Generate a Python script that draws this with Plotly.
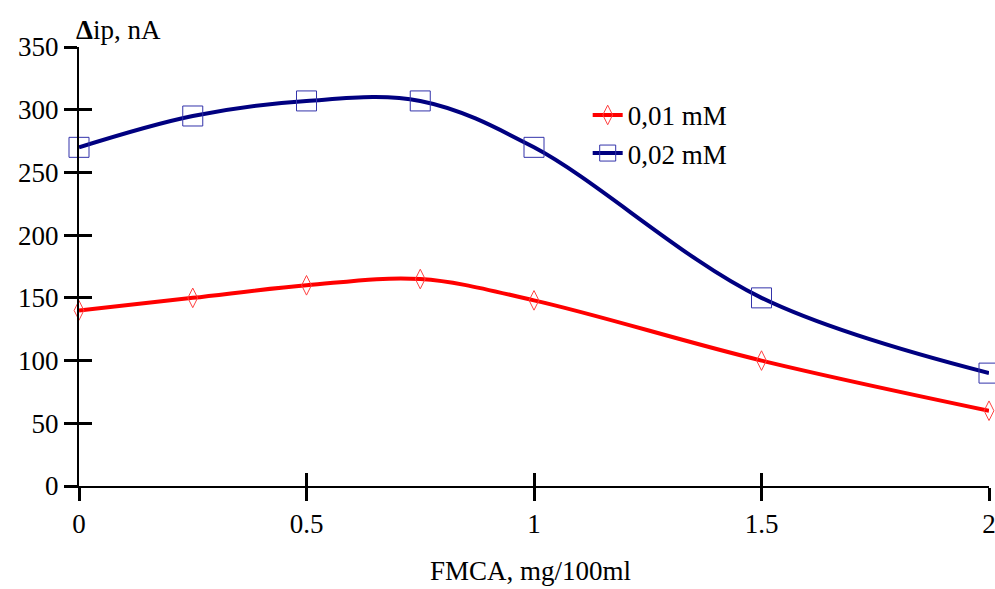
import plotly.graph_objects as go

x_vals = [0, 0.25, 0.5, 0.75, 1, 1.5, 2]
conc_001 = [140, 150, 160, 165, 148, 100, 60]
conc_002 = [270, 295, 307, 307, 270, 150, 90]
series_names = ["0,01 mM", "0,02 mM"]
x_ticks = [0, 0.5, 1, 1.5, 2]
x_tick_labels = ["0", "0.5", "1", "1.5", "2"]
y_ticks = [0, 50, 100, 150, 200, 250, 300, 350]

FONT = "Liberation Serif, Times New Roman, serif"
FS = 27

fig = go.Figure()
fig.add_trace(go.Scatter(
    x=x_vals, y=conc_001, name=series_names[0], mode="lines+markers",
    line=dict(color="#ff0000", width=4, shape="spline", smoothing=1.0),
    marker=dict(symbol="diamond-tall-open", size=14, color="#ff4040",
                line=dict(width=1, color="#ff4040")),
    cliponaxis=False,
))
fig.add_trace(go.Scatter(
    x=x_vals, y=conc_002, name=series_names[1], mode="lines+markers",
    line=dict(color="#000080", width=4, shape="spline", smoothing=1.0),
    marker=dict(symbol="square-open", size=20, color="#3333aa",
                line=dict(width=1, color="#3333aa")),
    cliponaxis=False,
))
# invisible trace on overlay axes for crossing ticks
fig.add_trace(go.Scatter(x=[0], y=[0], xaxis="x2", yaxis="y2", mode="markers",
                         marker=dict(opacity=0), showlegend=False, hoverinfo="skip"))

axis_common = dict(showgrid=False, zeroline=False, showline=True, linecolor="black",
                   linewidth=2, tickcolor="black", tickwidth=3, ticklen=13,
                   automargin=False, tickfont=dict(size=FS, family=FONT, color="black"))

fig.update_layout(
    width=995, height=589,
    margin=dict(l=79, r=6, t=47, b=103),
    plot_bgcolor="white", paper_bgcolor="white",
    font=dict(family=FONT, size=FS, color="black"),
    xaxis=dict(range=[0, 2], tickvals=x_ticks, ticktext=x_tick_labels, ticks="outside",
               ticklabelstandoff=0, ticklabeloverflow="allow", **axis_common),
    yaxis=dict(range=[0, 350], tickvals=y_ticks, ticks="outside", **axis_common),
    xaxis2=dict(range=[0, 2], tickvals=x_ticks, ticks="inside", showticklabels=False,
                overlaying="x", anchor="y2", **axis_common),
    yaxis2=dict(range=[0, 350], tickvals=y_ticks, ticks="inside", showticklabels=False,
                overlaying="y", anchor="x2", **axis_common),
    legend=dict(x=0.559, y=0.90, xanchor="left", yanchor="top", bgcolor="rgba(0,0,0,0)",
                font=dict(size=FS, family=FONT), itemwidth=30, tracegroupgap=0),
    showlegend=True,
    annotations=[
        dict(text="<b>Δ</b>ip, nA", xref="paper", yref="paper", x=-0.005, y=1.0,
             xanchor="left", yanchor="bottom", showarrow=False,
             font=dict(size=FS, family=FONT), yshift=0),
        dict(text="FMCA, mg/100ml", xref="paper", yref="paper", x=0.496, y=0,
             xanchor="center", yanchor="top", showarrow=False,
             font=dict(size=FS, family=FONT), yshift=-68),
    ],
)

fig.write_html("out.html")
